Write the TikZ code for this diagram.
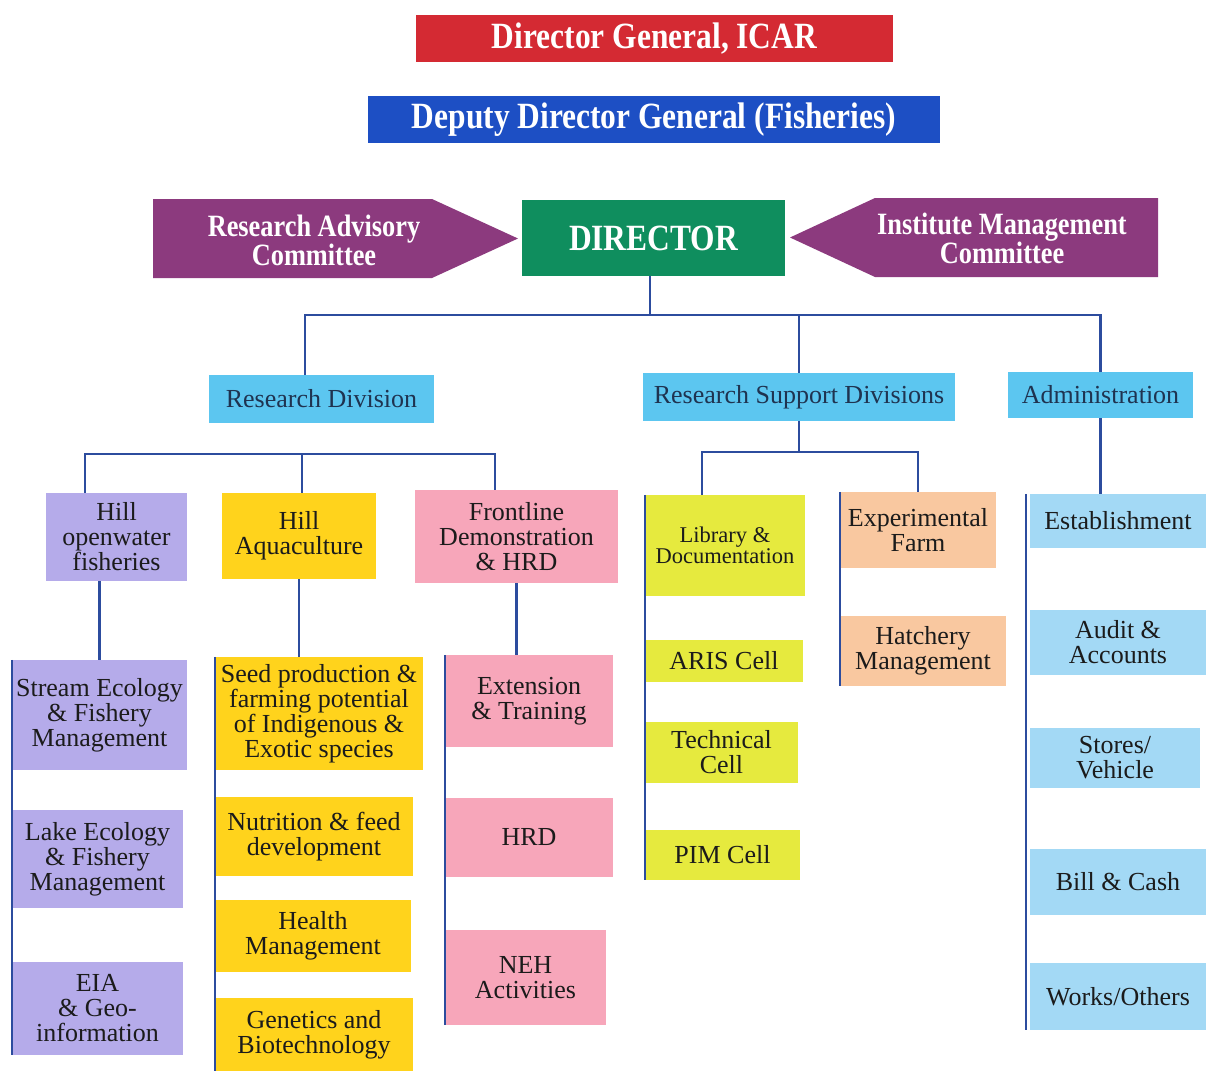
\documentclass[tikz,border=0pt]{standalone}
\usepackage{fontspec}
\setmainfont{Liberation Serif}
\newfontfamily\headfont{Liberation Serif}[FakeStretch=0.85]
\definecolor{dgred}{HTML}{D42A33}
\definecolor{ddgblue}{HTML}{1D4FC4}
\definecolor{cmtpurple}{HTML}{8C3A7E}
\definecolor{dirgreen}{HTML}{0F8E5E}
\definecolor{divblue}{HTML}{5CC6F0}
\definecolor{lavender}{HTML}{B5ABEA}
\definecolor{aquayellow}{HTML}{FFD31C}
\definecolor{pinkbox}{HTML}{F7A6BA}
\definecolor{limebox}{HTML}{E6EA3E}
\definecolor{peachbox}{HTML}{F9C8A0}
\definecolor{paleblue}{HTML}{A3D9F5}
\definecolor{linkblue}{HTML}{2C4C9E}
\definecolor{boxtext}{HTML}{1B1B1B}
\definecolor{divtext}{HTML}{1F3350}
\tikzset{
  box/.style={rectangle, inner sep=0pt, align=center, text=boxtext, font=\fontsize{26}{25}\selectfont},
  head/.style={box, text=white, font=\headfont\bfseries\fontsize{37}{40}\selectfont},
  cmttext/.style={inner sep=0pt, align=center, text=white, font=\headfont\bfseries\fontsize{31}{29}\selectfont},
  cmt/.style={fill=cmtpurple},
  divbox/.style={box, fill=divblue, text=divtext, font=\fontsize{26}{28}\selectfont},
  hill/.style={box, fill=lavender},
  aqua/.style={box, fill=aquayellow},
  hrdbox/.style={box, fill=pinkbox},
  supp/.style={box, fill=limebox},
  farm/.style={box, fill=peachbox},
  admbox/.style={box, fill=paleblue},
  link/.style={draw=linkblue, line width=2.2pt}
}
\begin{document}
\begin{tikzpicture}[x=1pt, y=-1pt]
\useasboundingbox (0,0) rectangle (1208,1071);

\node[head, fill=dgred, minimum width=477pt, minimum height=47pt] (dg) at (654.5,38.5) {Director General, ICAR};
\node[head, fill=ddgblue, minimum width=572pt, minimum height=47pt] (ddg) at (654,119.5) {Deputy Director General (Fisheries)};
\node[head, fill=dirgreen, minimum width=263pt, minimum height=76pt] (dir) at (653.5,238) {DIRECTOR};

\fill[cmt] (153,199) -- (432,199) -- (518,238.5) -- (432,278) -- (153,278) -- cycle;
\node[cmttext] (rac) at (314,240) {Research Advisory\\Committee};
\fill[cmt] (790,237.5) -- (875,198) -- (1158,198) -- (1158,277) -- (875,277) -- cycle;
\node[cmttext] (imc) at (1002,238) {Institute Management\\Committee};

\node[divbox, minimum width=225pt, minimum height=48pt] (rd) at (321.5,399) {Research Division};
\node[divbox, minimum width=312pt, minimum height=48pt] (rsd) at (799,397) {Research Support Divisions};
\node[divbox, minimum width=185pt, minimum height=46pt] (adm) at (1100.5,395) {Administration};

\node[hill, minimum width=141pt, minimum height=88pt] (hof) at (116.5,537) {Hill\\openwater\\fisheries};
\node[aqua, minimum width=154pt, minimum height=86pt] (ha) at (299,536) {Hill\\Aquaculture};
\node[hrdbox, minimum width=203pt, minimum height=93pt] (frd) at (516.5,536.5) {Frontline\\Demonstration\\\& HRD};
\node[supp, minimum width=160pt, minimum height=101pt, font=\fontsize{22.5}{21}\selectfont] (lib) at (725,545.5) {Library \&\\Documentation};
\node[farm, minimum width=156pt, minimum height=76pt] (ef) at (918,530) {Experimental\\Farm};
\node[admbox, minimum width=176pt, minimum height=54pt] (est) at (1118,521) {Establishment};

\node[hill, minimum width=175pt, minimum height=110pt] (sef) at (99.5,715) {Stream Ecology\\\& Fishery\\Management};
\node[hill, minimum width=171pt, minimum height=98pt] (lef) at (97.5,859) {Lake Ecology\\\& Fishery\\Management};
\node[hill, minimum width=171pt, minimum height=93pt] (eia) at (97.5,1008.5) {EIA\\\& Geo-\\information};

\node[aqua, minimum width=208pt, minimum height=113pt] (seed) at (319,713.5) {Seed production \&\\farming potential\\of Indigenous \&\\Exotic species};
\node[aqua, minimum width=198pt, minimum height=79pt] (nfd) at (314,836.5) {Nutrition \& feed\\development};
\node[aqua, minimum width=196pt, minimum height=72pt] (hlm) at (313,936) {Health\\Management};
\node[aqua, minimum width=198pt, minimum height=73pt] (gb) at (314,1034.5) {Genetics and\\Biotechnology};

\node[hrdbox, minimum width=168pt, minimum height=92pt] (ext) at (529,701) {Extension\\\& Training};
\node[hrdbox, minimum width=168pt, minimum height=79pt] (hrd) at (529,837.5) {HRD};
\node[hrdbox, minimum width=161pt, minimum height=95pt] (neh) at (525.5,977.5) {NEH\\Activities};

\node[supp, minimum width=158pt, minimum height=42pt] (aris) at (724,661) {ARIS Cell};
\node[supp, minimum width=153pt, minimum height=61pt] (tc) at (721.5,752.5) {Technical\\Cell};
\node[supp, minimum width=155pt, minimum height=50pt] (pim) at (722.5,855) {PIM Cell};

\node[farm, minimum width=166pt, minimum height=70pt] (hm) at (923,651) {Hatchery\\Management};

\node[admbox, minimum width=176pt, minimum height=65pt] (aa) at (1118,642.5) {Audit \&\\Accounts};
\node[admbox, minimum width=170pt, minimum height=60pt] (sv) at (1115,758) {Stores/\\Vehicle};
\node[admbox, minimum width=176pt, minimum height=66pt] (bc) at (1118,882) {Bill \& Cash};
\node[admbox, minimum width=176pt, minimum height=67pt] (wo) at (1118,996.5) {Works/Others};

\coordinate (top) at (0,315);
\coordinate (rdbar) at (0,454);
\coordinate (rsbar) at (0,452);
\coordinate (dirfoot) at ([xshift=-3.5pt]dir.south);
\coordinate (rdtop) at ([xshift=-16.5pt]rd.north);
\coordinate (hoftop) at ([xshift=-31.5pt]hof.north);
\coordinate (hatop) at ([xshift=3pt]ha.north);
\coordinate (frdtop) at ([xshift=-21.5pt]frd.north);
\coordinate (libtop) at ([xshift=-23pt]lib.north);
\coordinate (estspine) at ([xshift=-4pt]est.north west);

\draw[link] (dirfoot) -- (dirfoot |- top);
\draw[link] (rdtop) |- (top -| adm.north) -- (adm.north);
\draw[link] (rsd.north) -- (rsd.north |- top);

\draw[link] (hoftop) |- (frdtop |- rdbar) -- (frdtop);
\draw[link] (hatop) -- (hatop |- rdbar);
\draw[link] (rsd.south) -- (rsd.south |- rsbar);
\draw[link] (libtop) |- (ef.north |- rsbar) -- (ef.north);
\draw[link] (adm.south) -- (adm.south |- est.north);

\draw[link] (hof.south -| sef.north) -- (sef.north);
\draw[link] (ha.south) -- (ha.south |- seed.north);
\draw[link] (frd.south) -- (frd.south |- ext.north);

\draw[link] (sef.north west) -- (sef.north west |- eia.south);
\draw[link] (seed.north west) -- (seed.north west |- gb.south);
\draw[link] (ext.north west) -- (ext.north west |- neh.south);
\draw[link] (lib.north west) -- (lib.north west |- pim.south);
\draw[link] (ef.north west) -- (ef.north west |- hm.south);
\draw[link] (estspine) -- (estspine |- wo.south);
\end{tikzpicture}
\end{document}
